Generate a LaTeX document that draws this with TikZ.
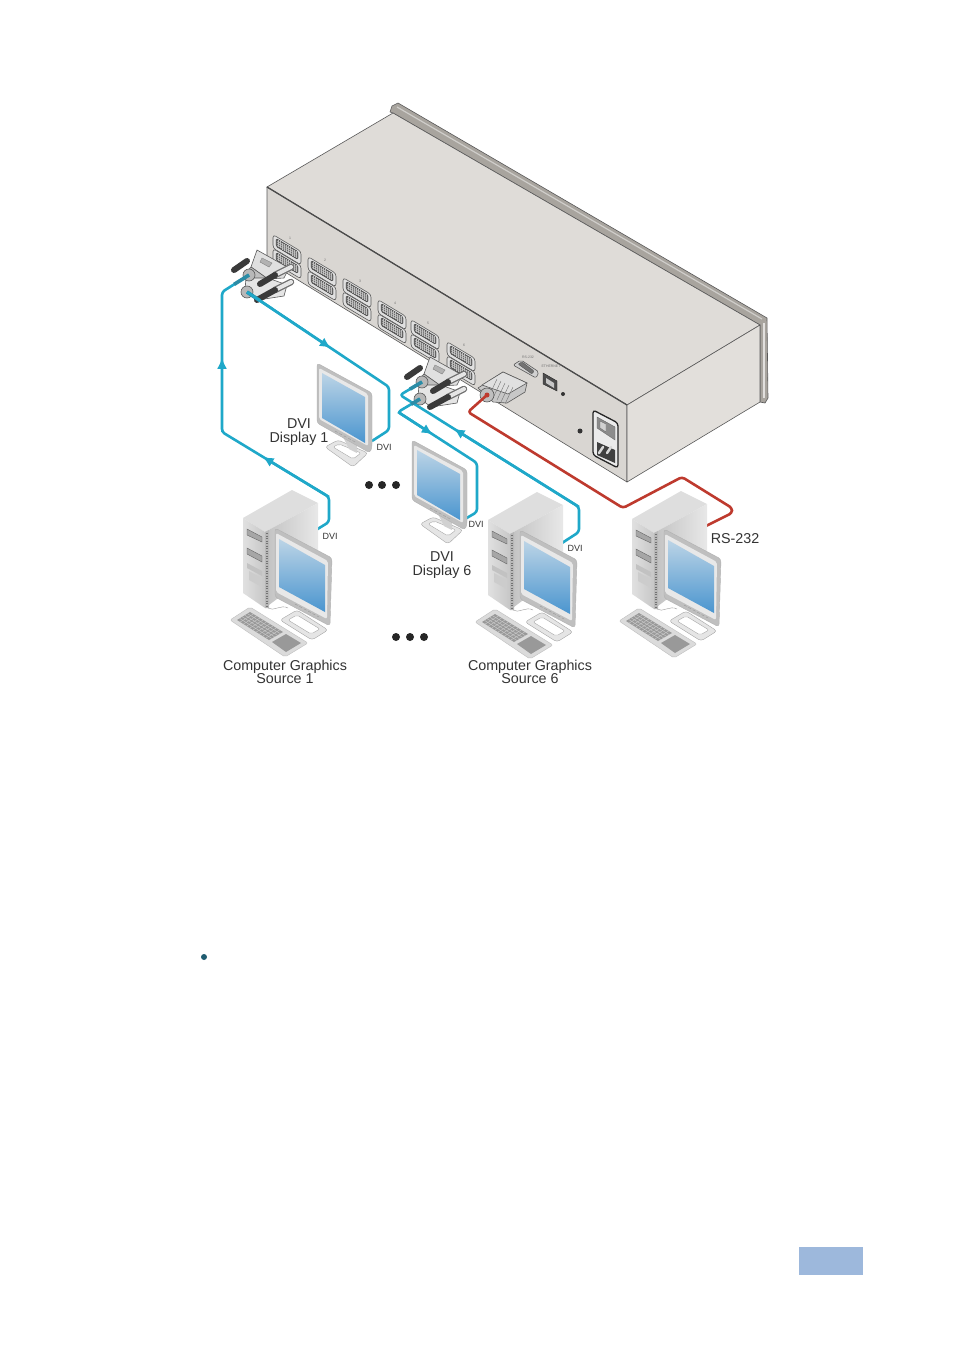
\documentclass[tikz,border=0pt]{standalone}
\usepackage{fontspec}
\setmainfont{Liberation Sans}
\usetikzlibrary{arrows.meta,calc}
\definecolor{cableblue}{HTML}{1FA8C9}
\definecolor{cabletail}{HTML}{2B8CA6}
\definecolor{cablered}{HTML}{BE3A2E}
\definecolor{boxtop}{HTML}{DFDCD8}
\definecolor{boxfront}{HTML}{D9D6D2}
\definecolor{boxside}{HTML}{E2DFDB}
\definecolor{boxrim}{HTML}{A8A49E}
\definecolor{screwdark}{HTML}{3A3A3A}
\definecolor{glasstop}{HTML}{BCD4E6}
\definecolor{glassmid}{HTML}{84B4DB}
\definecolor{glassbot}{HTML}{4A95CF}
\definecolor{bulletteal}{HTML}{1F5C70}
\definecolor{pagetab}{HTML}{9DB8DC}
\tikzset{
  boxline/.style={draw={black!65},line width=0.6pt,line join=round},
  cable/.style={line width=2.6pt,rounded corners=3pt,line join=round},
  cabletip/.style={line width=2.6pt,-{Latex[length=11pt,width=10pt]}},
  glass/.style={top color=glasstop,middle color=glassmid,bottom color=glassbot},
  biglabel/.style={align=center,text={black!80},font=\fontsize{14.3}{13.5}\selectfont},
  smalllabel/.style={text={black!80},font=\fontsize{9}{10}\selectfont},
  tinylabel/.style={text={black!55},font=\fontsize{3.5}{4}\selectfont},
  dviport/.pic={
    \begin{scope}[yslant=-0.6]
    \filldraw[boxline,fill={black!12},rounded corners=3pt] (-14,-7) rectangle (14,6.5);
    \filldraw[draw={black!75},fill={black!60},rounded corners=1.5pt] (-11,-5) rectangle (11,3);
    \foreach \gx in {-9,-7,...,9} \draw[{black!25},line width=0.5pt] (\gx,-4.5) -- (\gx,2.5);
    \foreach \gy in {-3,-1,1} \draw[{black!25},line width=0.5pt] (-10,\gy) -- (10,\gy);
    \end{scope}
  },
  dviplug/.pic={
    \draw[screwdark,line width=6pt,line cap=round] (-33,0) -- (-20,-9);
    \filldraw[boxline,fill={black!12}] (-10,-20) -- (22,-2) -- (17,8) -- (1,9) -- (-16,-3) -- cycle;
    \filldraw[draw={black!50},fill={black!30}] (-5,-12) -- (5,-7) -- (2,-3) -- (-7,-8) -- cycle;
    \filldraw[boxline,fill={black!25}] (-16,-3) -- (1,9) -- (-3,16) -- (-23,5) -- cycle;
    \filldraw[boxline,fill={black!10}] (-21,8) -- (1,8) -- (20,15) -- (17,26) -- (-9,30) -- (-22,20) -- cycle;
    \draw[{black!55},line width=6.5pt,line cap=round] (8,5) -- (24,-3);
    \draw[{black!10},line width=4pt,line cap=round] (8,5) -- (24,-3);
    \draw[screwdark,line width=6pt,line cap=round] (-7,14) -- (8,5);
    \draw[{black!55},line width=6.5pt,line cap=round] (8,20) -- (24,12);
    \draw[{black!10},line width=4pt,line cap=round] (8,20) -- (24,12);
    \draw[screwdark,line width=6pt,line cap=round] (-10,30) -- (8,20);
    \filldraw[boxline,fill={black!28}] (-18,5) circle (6);
    \filldraw[boxline,fill={black!28}] (-20,22) circle (6);
  },
  flatscreen/.pic={
    \filldraw[draw={black!35},fill={black!10},rounded corners=3pt] (8,84) -- (21,77) -- (51,90) -- (36,104) -- cycle;
    \filldraw[draw={black!35},fill=white,rounded corners=2pt] (16,84) -- (22,81) -- (44,90) -- (36,96) -- cycle;
    \fill[black!18] (26,74) -- (40,80) -- (40,90) -- (32,86) -- cycle;
    \filldraw[draw={black!30},fill={black!25},rounded corners=3pt] (0,0) -- (55,30) -- (55,84) -- (53,90) -- (0,60) -- cycle;
    \fill[black!9,rounded corners=2pt] (2,5) -- (51,31) -- (51,83) -- (2,56) -- cycle;
    \shade[glass] (5,10) -- (48,34) -- (48,80) -- (5,55) -- cycle;
    \draw[{black!40},dash pattern=on 3pt off 2pt] (18,68) -- (40,80);
  },
  pcset/.pic={
    \fill[black!13] (0,0) -- (49,-28) -- (75,-15) -- (22,14) -- cycle;
    \shade[left color={black!12},right color={black!22}] (0,0) -- (22,14) -- (22,90) -- (0,75) -- cycle;
    \shade[left color={black!24},right color={black!9}] (22,14) -- (75,-15) -- (75,50) -- (22,90) -- cycle;
    \fill[black!28] (22,14) -- (26,12) -- (26,90) -- (22,90) -- cycle;
    \draw[{black!55},line width=2.5pt,dash pattern=on 1pt off 1.5pt] (24,15) -- (24,89);
    \filldraw[draw={black!60},fill={black!35}] (4,11) -- (19,19) -- (19,24) -- (4,17) -- cycle;
    \filldraw[draw={black!60},fill={black!35}] (4,30) -- (19,38) -- (19,44) -- (4,36) -- cycle;
    \fill[black!24] (4,45) -- (19,53) -- (19,58) -- (4,50) -- cycle;
    \fill[black!20] (6,53) -- (17,59) -- (17,68) -- (6,62) -- cycle;
    \draw[{black!40}] (25,90) .. controls (30,94) and (38,86) .. (45,90);
    \filldraw[draw={black!25},fill={black!14},rounded corners=2pt] (-13,102) -- (7,89) -- (65,125) -- (42,139) -- cycle;
    \fill[black!40] (-6,102) -- (7,94) -- (40,114) -- (26,122) -- cycle;
    \fill[black!40] (29,124) -- (43,116) -- (58,125) -- (43,134) -- cycle;
    \foreach \kt in {0.2,0.4,0.6,0.8} \draw[{black!20},line width=0.4pt] ($(-6,102)!\kt!(7,94)$) -- ($(26,122)!\kt!(40,114)$);
    \foreach \kt in {0.1,0.2,...,0.9} \draw[{black!20},line width=0.4pt] ($(-6,102)!\kt!(26,122)$) -- ($(7,94)!\kt!(40,114)$);
    \filldraw[draw={black!35},fill={black!10},rounded corners=3pt] (37,102) -- (54,92) -- (85,112) -- (69,122) -- cycle;
    \filldraw[draw={black!35},fill=white,rounded corners=2pt] (45,102) -- (54,97) -- (77,111) -- (68,116) -- cycle;
    \filldraw[draw={black!30},fill={black!25},rounded corners=3pt] (32,10) -- (89,40) -- (87,108) -- (32,79) -- cycle;
    \fill[black!9,rounded corners=2pt] (33,15) -- (85,43) -- (84,101) -- (33,74) -- cycle;
    \shade[glass] (36,21) -- (82,47) -- (82,94) -- (36,69) -- cycle;
    \draw[{black!40},dash pattern=on 3pt off 2pt] (52,86) -- (76,99);
  }
}
\begin{document}
\begin{tikzpicture}[x=1pt,y=-1pt]
\fill[white] (0,0) rectangle (954,1354);
\filldraw[boxline,fill=boxrim] (390,112) -- (392,106) -- (398,103) -- (767,318) -- (768,398) -- (765,403) -- (760,402) -- (760,325) -- (393,113) -- cycle;
\draw[{white!65!boxrim},line width=1.6pt] (764,323) -- (764,398);
\draw[{white!45!boxrim},line width=1.2pt] (397,107) -- (762,319);
\filldraw[boxline,fill=boxtop] (267,187) -- (393,113) -- (760,325) -- (627,405) -- cycle;
\filldraw[boxline,fill=boxfront] (267,187) -- (627,405) -- (627,482) -- (267,261) -- cycle;
\filldraw[boxline,fill=boxside] (627,405) -- (760,325) -- (760,402) -- (627,482) -- cycle;
\draw[{black!70},line width=1.3pt] (267,187) -- (627,405);
\foreach \px/\py/\plab in {287/250/1,322/272/2,357/293/3,392/315/4,425/335/5,461/357/6}{
  \pic at (\px,\py) {dviport};
  \pic at (\px,\py+14) {dviport};
  \node[tinylabel] (port\plab) at (\px+3,\py-12) {\plab};
}
\node[tinylabel] (lblrs) at (528,357) {RS-232};
\node[tinylabel] (lbleth) at (551,366) {ETHERNET};
\filldraw[boxline,fill={black!18},rounded corners=2pt] (513,365) -- (521,360) -- (539,372) -- (536,378) -- cycle;
\filldraw[draw={black!70},fill={black!55},rounded corners=1pt] (518,364) -- (522,362) -- (534,371) -- (532,374) -- cycle;
\filldraw[draw={black!85},fill={black!70}] (543,373) -- (557,381) -- (557,391) -- (543,384) -- cycle;
\fill[black!22] (546,378) -- (554,383) -- (554,388) -- (546,383) -- cycle;
\fill[black!80] (563,394) circle (2);
\fill[black!80] (580,431) circle (2.5);
\filldraw[draw={black!85},line width=1.3pt,fill={black!8},rounded corners=3pt] (593,410) -- (618,423) -- (618,468) -- (593,455) -- cycle;
\filldraw[draw={black!60},fill={black!45}] (597,417) -- (615,427) -- (615,440) -- (597,428) -- cycle;
\filldraw[draw={black!60},fill={black!18}] (600,421) -- (606,424) -- (606,432) -- (600,428) -- cycle;
\fill[black!75] (597,442) -- (615,450) -- (615,463) -- (597,455) -- cycle;
\foreach \kx in {602,610} \draw[{black!15},line width=2.5pt,line cap=round] (\kx-3,453) -- (\kx+1,447);
\pic (plugone) at (267,270) {dviplug};
\pic (plugsix) at (440,377) {dviplug};
\filldraw[boxline,fill={black!22}] (478,388) -- (503,372) -- (527,383) -- (525,392) -- (507,403) -- (493,402) -- cycle;
\filldraw[boxline,fill={black!12}] (482,385) -- (503,372) -- (527,383) -- (508,394) -- cycle;
\foreach \rx in {0,4,...,16} \draw[{black!55}] (497+\rx,379+0.5*\rx) -- (489+\rx,396+0.5*\rx);
\filldraw[boxline,fill={black!25}] (487,395) circle (7);
\coordinate (plugAin) at (249,275);
\coordinate (bendAa) at (222,292);
\coordinate (bendAb) at (222,432);
\coordinate (bendAc) at (329,497);
\coordinate (bendAd) at (329,522);
\coordinate (srcAout) at (316,530);
\coordinate (plugBout) at (247,292);
\coordinate (bendBa) at (389,387);
\coordinate (bendBb) at (389,430);
\coordinate (dispBin) at (372,441);
\coordinate (plugCout) at (420,399);
\coordinate (bendCa) at (398,412);
\coordinate (bendCb) at (477,463);
\coordinate (bendCc) at (477,512);
\coordinate (dispCin) at (465,519);
\coordinate (plugDin) at (422,382);
\coordinate (bendDa) at (400,395);
\coordinate (bendDb) at (579,507);
\coordinate (bendDc) at (579,532);
\coordinate (srcDout) at (562,543);
\coordinate (plugRin) at (487,395);
\coordinate (bendRa) at (468,412);
\coordinate (bendRb) at (623,508);
\coordinate (bendRc) at (682,477);
\coordinate (bendRd) at (732,508);
\coordinate (bendRe) at (732,513);
\coordinate (srcRout) at (706,526);
\draw[cable,cableblue] (srcAout) -- (bendAd) -- (bendAc) -- (bendAb) -- (bendAa) -- (plugAin);
\draw[cable,cableblue] (plugBout) -- (bendBa) -- (bendBb) -- (dispBin);
\draw[cable,cableblue] (plugCout) -- (bendCa) -- (bendCb) -- (bendCc) -- (dispCin);
\draw[cable,cableblue] (srcDout) -- (bendDc) -- (bendDb) -- (bendDa) -- (plugDin);
\draw[cable,cablered] (plugRin) -- (bendRa) -- (bendRb) -- (bendRc) -- (bendRd) -- (bendRe) -- (srcRout);
\draw[cabletail,line width=3.6pt] (plugAin) -- ($(plugAin)!0.55!(bendAa)$);
\draw[cabletail,line width=3.6pt] (plugBout) -- ($(plugBout)!0.09!(bendBa)$);
\draw[cabletail,line width=3.6pt] (plugCout) -- ($(plugCout)!0.4!(bendCa)$);
\draw[cabletail,line width=3.6pt] (plugDin) -- ($(plugDin)!0.55!(bendDa)$);
\fill[cablered] (plugRin) circle (2.5);
\draw[cabletip,cableblue] (bendAb) -- ($(bendAb)!0.53!(bendAa)$);
\draw[cabletip,cableblue] (bendAc) -- ($(bendAc)!0.62!(bendAb)$);
\draw[cabletip,cableblue] (plugBout) -- ($(plugBout)!0.59!(bendBa)$);
\draw[cabletip,cableblue] (bendCa) -- ($(bendCa)!0.44!(bendCb)$);
\draw[cabletip,cableblue] (bendDb) -- ($(bendDb)!0.70!(bendDa)$);
\pic (dispone) at (317,363) {flatscreen};
\pic (dispsix) at (412,440) {flatscreen};
\pic (srcone) at (243,518) {pcset};
\pic (srcsix) at (488,520) {pcset};
\pic (srcctl) at (632,519) {pcset};
\foreach \dx in {369,382,396} \fill[black!85] (\dx,485) circle (4);
\foreach \dx in {396,410,424} \fill[black!85] (\dx,637) circle (4);
\node[biglabel] (lbldispone) at (299,432) {DVI\\Display 1};
\node[biglabel] (lbldispsix) at (442,565) {DVI\\Display 6};
\node[biglabel] (lblsrcone) at (285,672) {Computer Graphics\\Source 1};
\node[biglabel] (lblsrcsix) at (530,672) {Computer Graphics\\Source 6};
\node[biglabel] (lblrs) at (735,539) {RS-232};
\node[smalllabel] (dviA) at (384,447) {DVI};
\node[smalllabel] (dviB) at (330,536) {DVI};
\node[smalllabel] (dviC) at (476,524) {DVI};
\node[smalllabel] (dviD) at (575,548) {DVI};
\fill[bulletteal] (204,957) circle (3);
\fill[pagetab] (799,1247) rectangle (863,1275);
\end{tikzpicture}
\end{document}
